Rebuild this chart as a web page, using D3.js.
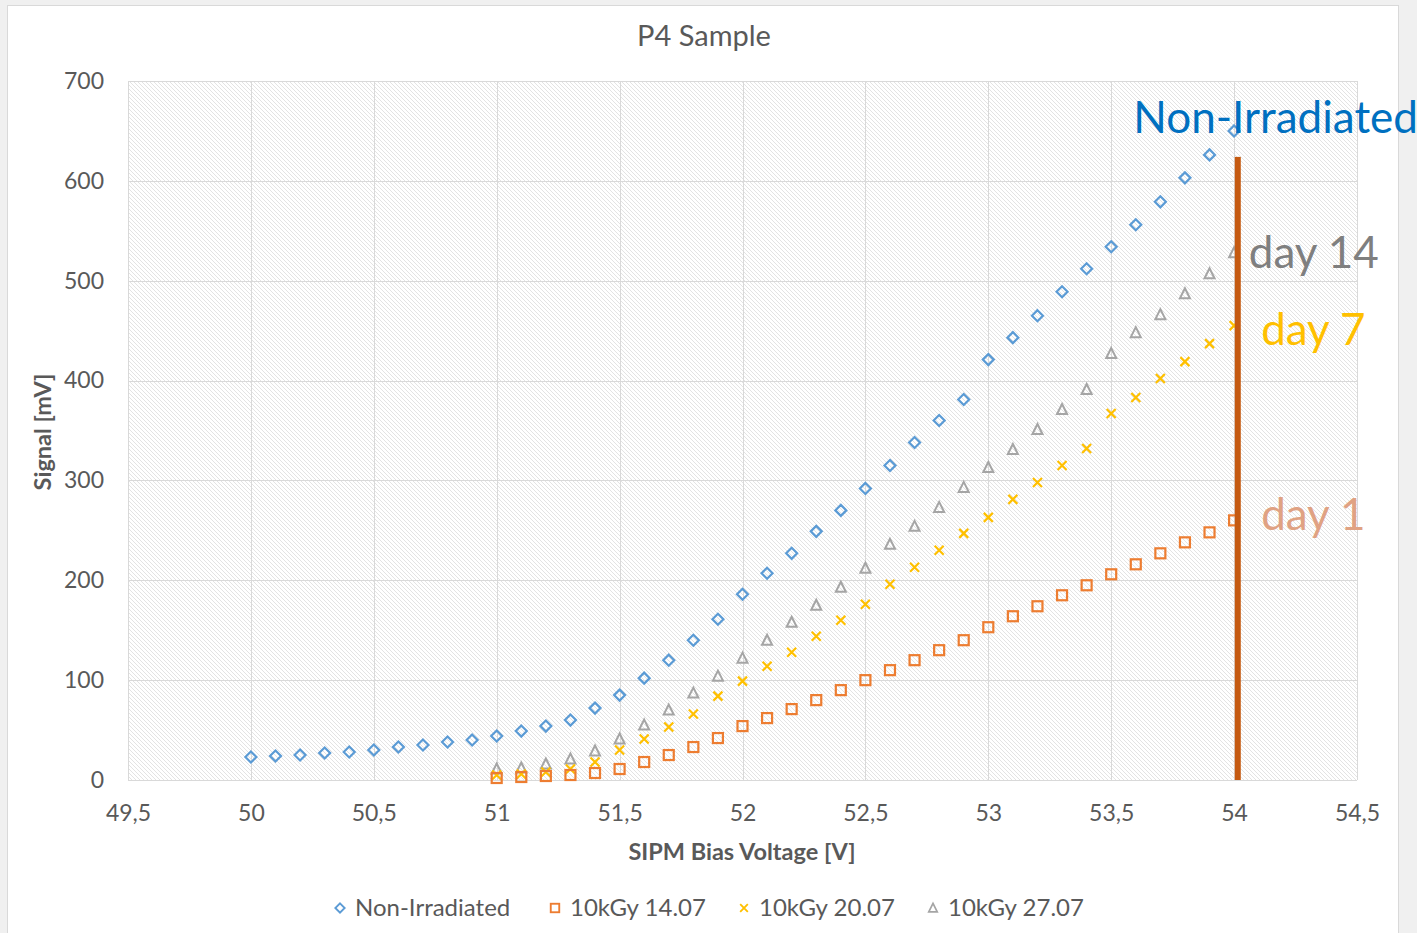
<!DOCTYPE html>
<html><head><meta charset="utf-8">
<script src="https://cdn.jsdelivr.net/npm/d3@7"></script>
<style>
html,body{margin:0;padding:0;background:#f0f0f0;}
svg{display:block;}
text{font-family:Lato,"Open Sans",sans-serif;}
</style></head>
<body>
<svg id="chart" width="1417" height="933"></svg>
<script>
const title = "P4 Sample";
const xLabel = "SIPM Bias Voltage [V]";
const yLabel = "Signal [mV]";
const xTicks = [49.5,50,50.5,51,51.5,52,52.5,53,53.5,54,54.5];
const yTicks = [0,100,200,300,400,500,600,700];
const seriesNames = ["Non-Irradiated","10kGy 14.07","10kGy 20.07","10kGy 27.07"];
const seriesColors = ["#5b9bd5","#ed7d31","#ffc000","#a5a5a5"];

const voltNonIrr = [50,50.1,50.2,50.3,50.4,50.5,50.6,50.7,50.8,50.9,51,51.1,51.2,51.3,51.4,51.5,51.6,51.7,51.8,51.9,52,52.1,52.2,52.3,52.4,52.5,52.6,52.7,52.8,52.9,53,53.1,53.2,53.3,53.4,53.5,53.6,53.7,53.8,53.9,54];
const sigNonIrr = [23,24,25,27,28,30,33,35,38,40,44,49,54,60,72,85,102,120,140,161,186,207,227,249,270,292,315,338,360,381,421,443,465,489,512,534,556,579,603,626,650];

const voltIrr = [51,51.1,51.2,51.3,51.4,51.5,51.6,51.7,51.8,51.9,52,52.1,52.2,52.3,52.4,52.5,52.6,52.7,52.8,52.9,53,53.1,53.2,53.3,53.4,53.5,53.6,53.7,53.8,53.9,54];
const sigDay1 = [2,3,4,5,7,11,18,25,33,42,54,62,71,80,90,100,110,120,130,140,153,164,174,185,195,206,216,227,238,248,260];
const sigDay7 = [5,6,8,11,18,30,41,53,66,84,99,114,128,144,160,176,196,213,230,247,263,281,298,315,332,367,383,402,419,437,455];
const sigDay14 = [11,12,16,21,29,41,55,70,87,104,122,140,158,175,193,212,236,254,273,293,313,331,351,371,391,427,448,466,487,507,528];

// vertical cut-off bar
const barVolt = 54.015;
const barRange = [0,624];

// annotations: label, anchor voltage, anchor signal, color
const annLabels = ["Non-Irradiated","day 14","day 7","day 1"];
const annVolt = [53.59,54.06,54.11,54.11];
const annSig = [648,513,436,250];
const annColors = ["#0070c0","#7f7f7f","#ffc000","#e0a283"];

const svg = d3.select("#chart");
svg.append("rect").attr("x",7.5).attr("y",5.5).attr("width",1391).attr("height",935)
  .attr("fill","#fff").attr("stroke","#d9d9d9");

const defs = svg.append("defs");
const pat = defs.append("pattern").attr("id","hatch").attr("patternUnits","userSpaceOnUse")
  .attr("width",4).attr("height",4);
pat.append("rect").attr("width",4).attr("height",4).attr("fill","#fff");
pat.append("path").attr("d","M-1,-1L5,5M-1,3L1,5M3,-1L5,1").attr("stroke","#e0e0e0").attr("stroke-width",0.9);

const x = d3.scaleLinear().domain([49.5,54.5]).range([128,1357]);
const y = d3.scaleLinear().domain([0,700]).range([780,81]);

svg.append("rect").attr("x",x(49.5)).attr("y",y(700)).attr("width",x(54.5)-x(49.5)).attr("height",y(0)-y(700))
  .attr("fill","url(#hatch)");

const grid = svg.append("g");
grid.selectAll("line.h").data(yTicks).join("line")
  .attr("x1",x(49.5)).attr("x2",x(54.5)).attr("y1",d=>Math.round(y(d))+0.5).attr("y2",d=>Math.round(y(d))+0.5)
  .attr("stroke","#d9d9d9").attr("stroke-width",1);
grid.selectAll("line.v").data(xTicks).join("line")
  .attr("y1",y(0)).attr("y2",y(700)).attr("x1",d=>Math.round(x(d))+0.5).attr("x2",d=>Math.round(x(d))+0.5)
  .attr("stroke","#d9d9d9").attr("stroke-width",1);

const fmt = d=>String(d).replace(".",",");
const xAxis = d3.axisBottom(x).tickValues(xTicks).tickFormat(fmt).tickSize(0).tickPadding(25);
const gx = svg.append("g").attr("transform",`translate(0,${y(0)})`).call(xAxis);
gx.select(".domain").remove();
gx.selectAll("text").attr("font-size",23).attr("fill","#595959").attr("font-family","Lato");
const yAxis = d3.axisLeft(y).tickValues(yTicks).tickSize(0).tickPadding(24);
const gy = svg.append("g").attr("transform",`translate(${x(49.5)},0)`).call(yAxis);
gy.select(".domain").remove();
gy.selectAll("text").attr("font-size",23).attr("fill","#595959").attr("font-family","Lato");

svg.append("text").attr("x",704).attr("y",46).attr("text-anchor","middle")
  .attr("font-size",29).attr("fill","#595959").text(title);
svg.append("text").attr("x",742).attr("y",860).attr("text-anchor","middle")
  .attr("font-size",23.5).attr("font-weight","bold").attr("fill","#595959").text(xLabel);
svg.append("text").attr("transform","translate(51,432) rotate(-90)").attr("text-anchor","middle")
  .attr("font-size",23.5).attr("font-weight","bold").attr("fill","#595959").text(yLabel);

function drawMarker(g, type, color){
  if(type===0){ g.append("path").attr("d","M0,-5.5L5.5,0L0,5.5L-5.5,0Z").attr("fill","none").attr("stroke",color).attr("stroke-width",2.2); }
  else if(type===1){ g.append("rect").attr("x",-5).attr("y",-5).attr("width",10).attr("height",10).attr("fill","none").attr("stroke",color).attr("stroke-width",2.2); }
  else if(type===2){ g.append("path").attr("d","M-4.5,-4.5L4.5,4.5M-4.5,4.5L4.5,-4.5").attr("stroke",color).attr("stroke-width",2.2); }
  else { g.append("path").attr("d","M0,-5.5L5,4.5L-5,4.5Z").attr("fill","none").attr("stroke",color).attr("stroke-width",2); }
}
const series = [
  {v:voltNonIrr, s:sigNonIrr},
  {v:voltIrr, s:sigDay1},
  {v:voltIrr, s:sigDay7},
  {v:voltIrr, s:sigDay14}
];
[0,3,2,1].forEach(i=>{
  const data = series[i].v.map((v,j)=>[v,series[i].s[j]]);
  const g = svg.append("g");
  g.selectAll("g").data(data).join("g")
    .attr("transform",d=>`translate(${x(d[0])},${y(d[1])})`)
    .each(function(){ drawMarker(d3.select(this), i, seriesColors[i]); });
});

svg.append("rect").attr("x",x(barVolt)-3).attr("y",y(barRange[1])).attr("width",6)
  .attr("height",y(barRange[0])-y(barRange[1])).attr("fill","#c55a11");

annLabels.forEach((t,i)=>{
  svg.append("text").attr("x",x(annVolt[i])).attr("y",y(annSig[i]))
    .attr("font-size",44).attr("fill",annColors[i]).text(t);
});

const legX = [340,555,744,933];
seriesNames.forEach((n,i)=>{
  const g = svg.append("g").attr("transform",`translate(${legX[i]},908)`);
  const m = g.append("g").attr("transform","scale(0.85)");
  drawMarker(m,i,seriesColors[i]);
  g.append("text").attr("x",15).attr("y",8).attr("font-size",24).attr("fill","#595959").text(n);
});
</script>
</body></html>
